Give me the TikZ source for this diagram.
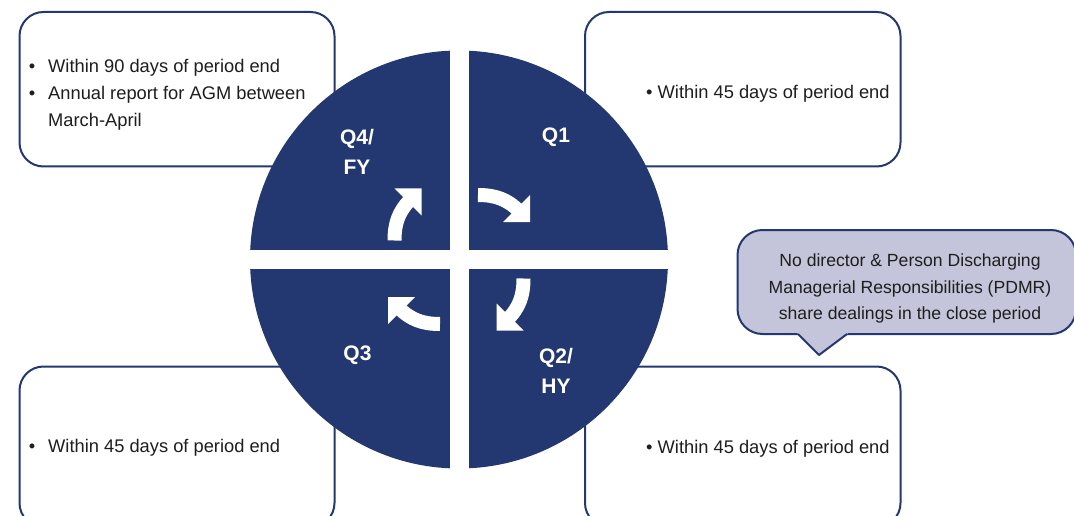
\documentclass[tikz,border=0pt]{standalone}
\usepackage{fontspec}
\setmainfont{Liberation Sans}
\definecolor{navy}{RGB}{35,56,112}
\definecolor{lav}{RGB}{196,196,218}
\definecolor{ink}{RGB}{30,30,30}
\begin{document}
\begin{tikzpicture}[x=1pt,y=-1pt,
  infobox/.style={draw=navy,line width=2pt,fill=white,rounded corners=24pt},
  quad/.style={fill=navy},
  body/.style={font=\fontsize{18.3}{27}\selectfont,text=ink,inner sep=0pt},
  cotext/.style={font=\fontsize{17.6}{26.5}\selectfont,text=ink,inner sep=0pt,anchor=base},
  qlab/.style={font=\fontsize{21}{30}\selectfont\bfseries,text=white,inner sep=0pt,align=center},
  arrowbody/.style={draw=white,line width=14pt},
  arrowhead/.style={fill=white}]
\useasboundingbox (0,0) rectangle (1074,516);
% boxes
\draw[infobox] (19.5,12) rectangle (334.5,166.5);
\draw[infobox] (585,12) rectangle (900.5,166.5);
\draw[infobox] (19.5,366.5) rectangle (334.5,527);
\draw[infobox] (585,366.5) rectangle (900.5,527);
% callout
\draw[draw=navy,line width=2pt,fill=lav,rounded corners=25pt] (737.5,230) rectangle (1076,334);
\fill[lav] (796,331) -- (850,331) -- (847,334) -- (819,355) -- (798,334) -- cycle;
\draw[navy,line width=2pt,line join=round] (798,334) -- (819,355) -- (847,334);
% circle quadrants
\coordinate (c) at (459,259.5);
\begin{scope}
\clip (c) circle (209);
\fill[quad] (250,50) rectangle (449.5,250);
\fill[quad] (468.5,50) rectangle (668,250);
\fill[quad] (250,269) rectangle (449.5,469);
\fill[quad] (468.5,269) rectangle (668,469);
\end{scope}
% arrows
\foreach \r in {0,-90,-180,-270}{
  \begin{scope}[rotate around={\r:(c)}]
    \draw[arrowbody] (478,195) .. controls (495,195) and (507,199) .. (519,211);
    \fill[arrowhead] (503,222) -- (530,195) -- (530,222) -- cycle;
  \end{scope}
}
% Q labels
\node[qlab] (q4) at (357,152) {Q4/\\FY};
\node[qlab] (q1) at (556,137) {Q1};
\node[qlab] (q2) at (556,371) {Q2/\\HY};
\node[qlab] (q3) at (357.5,355) {Q3};
% texts
\node[body,anchor=base] (b1) at (32,72.7) {•};
\node[body,anchor=base west] (t1) at (48,72.7) {Within 90 days of period end};
\node[body,anchor=base] (b2) at (32,100) {•};
\node[body,anchor=base west] (t2) at (48,100) {Annual report for AGM between};
\node[body,anchor=base west] (t3) at (48,126.7) {March-April};
\node[body,anchor=base west] (t4) at (646,98.3) {• Within 45 days of period end};
\node[body,anchor=base] (b5) at (32,452.7) {•};
\node[body,anchor=base west] (t5) at (48,452.7) {Within 45 days of period end};
\node[body,anchor=base west] (t6) at (646,453.3) {• Within 45 days of period end};
\node[cotext] (co1) at (910,266.7) {No director \& Person Discharging};
\node[cotext] (co2) at (910,293) {Managerial Responsibilities (PDMR)};
\node[cotext] (co3) at (910,319.3) {share dealings in the close period};
\end{tikzpicture}
\end{document}
